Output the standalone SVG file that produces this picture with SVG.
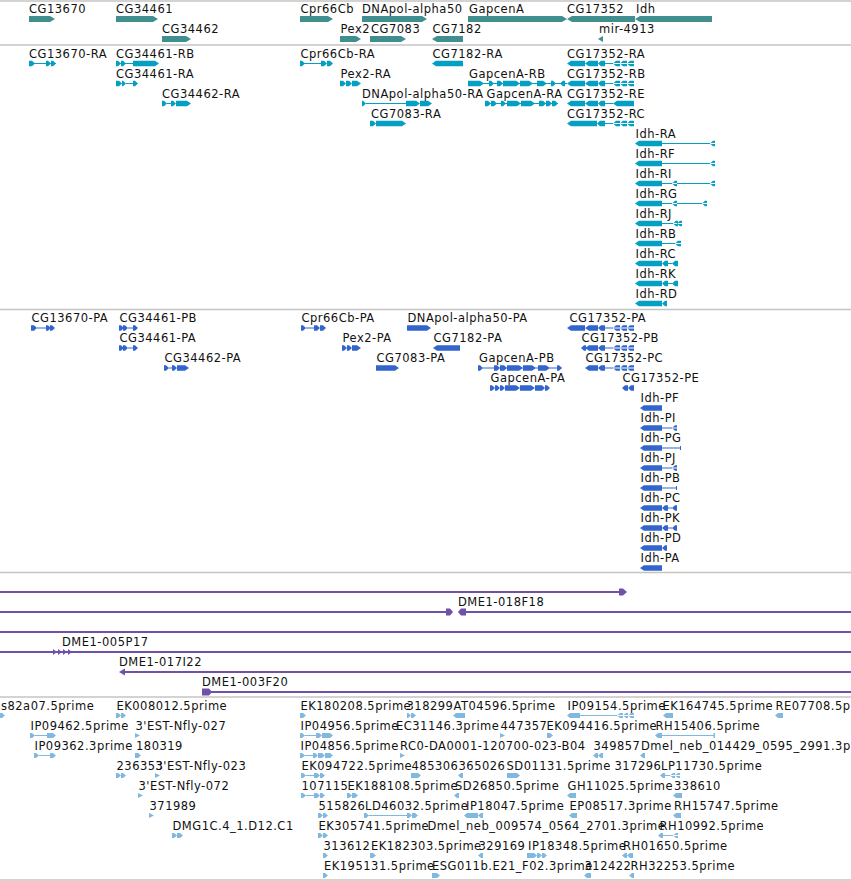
<svg xmlns="http://www.w3.org/2000/svg" xmlns:xlink="http://www.w3.org/1999/xlink" width="851" height="881" viewBox="0 0 851 881">
<style>
.t{font-family:"DejaVu Sans","Liberation Sans",sans-serif;font-size:11.5px;letter-spacing:0.5px;fill:#111}
.g{fill:#408e8e}
.r{fill:#04a0c4}
.p{fill:#3366cc}
.e{fill:#80b8e0}
.c{fill:#7050a8}
.cl{stroke:#7050a8;stroke-width:2;fill:none}
.sep{stroke:#c4c4c4;stroke-width:1.5}
</style>
<defs>
<path id="c17h" d="M585,-2.75H571L567,0L571,2.75H585Z M598,-2.75H589L585,0L589,2.75H598Z M605,-2.75H601L598,0L601,2.75H605Z"/>
<path id="c17t" d="M605,-.6H634V.6H605Z M620,-2.75H616L613,0L616,2.75H620Z M627,-2.75H623L620,0L623,2.75H627Z M634,-2.75H630L627,0L630,2.75H634Z"/>
<path id="idhT" d="M662,-2.75H639L635,0L639,2.75H662Z"/>
<path id="idhP" d="M662,-2.75H644L640,0L644,2.75H662Z"/>
</defs>
<rect x="0" y="0" width="851" height="881" fill="#fff"/>
<g id="separators">
<line class="sep" x1="0" y1="1" x2="851" y2="1"/>
<line class="sep" x1="0" y1="45" x2="851" y2="45"/>
<line class="sep" x1="0" y1="309.5" x2="851" y2="309.5"/>
<line class="sep" x1="0" y1="572.5" x2="851" y2="572.5"/>
<line class="sep" x1="0" y1="697" x2="851" y2="697"/>
<line class="sep" x1="0" y1="880" x2="851" y2="880"/>
</g>

<g id="genes">
<g id="gene-CG13670" transform="translate(0,19)"><text class="t" x="29" y="-6">CG13670</text><path class="g" d="M29,-3H50L55,0L50,3H29Z"/></g>
<g id="gene-CG34461" transform="translate(0,19)"><text class="t" x="116" y="-6">CG34461</text><path class="g" d="M116,-3H153L158,0L153,3H116Z"/></g>
<g id="gene-Cpr66Cb" transform="translate(0,19)"><text class="t" x="300.5" y="-6">Cpr66Cb</text><path class="g" d="M300,-3H328L333,0L328,3H300Z"/></g>
<g id="gene-DNApol-alpha50" transform="translate(0,19)"><text class="t" x="362" y="-6">DNApol-alpha50</text><path class="g" d="M362,-3H422L427,0L422,3H362Z"/></g>
<g id="gene-GapcenA" transform="translate(0,19)"><text class="t" x="469" y="-6">GapcenA</text><path class="g" d="M468,-3H562L567,0L562,3H468Z"/></g>
<g id="gene-CG17352" transform="translate(0,19)"><text class="t" x="567" y="-6">CG17352</text><path class="g" d="M635,-3H572L567,0L572,3H635Z"/></g>
<g id="gene-Idh" transform="translate(0,19)"><text class="t" x="636" y="-6">Idh</text><path class="g" d="M712,-3H640L635,0L640,3H712Z"/></g>
<g id="gene-CG34462" transform="translate(0,39)"><text class="t" x="162" y="-6">CG34462</text><path class="g" d="M162,-3H186L191,0L186,3H162Z"/></g>
<g id="gene-Pex2" transform="translate(0,39)"><text class="t" x="340.5" y="-6">Pex2</text><path class="g" d="M340,-3H356L361,0L356,3H340Z"/></g>
<g id="gene-CG7083" transform="translate(0,39)"><text class="t" x="371" y="-6">CG7083</text><path class="g" d="M370,-3H401L406,0L401,3H370Z"/></g>
<g id="gene-CG7182" transform="translate(0,39)"><text class="t" x="432.5" y="-6">CG7182</text><path class="g" d="M463,-3H437L432,0L437,3H463Z"/></g>
<g id="gene-mir-4913" transform="translate(0,39)"><text class="t" x="599" y="-6">mir-4913</text><path class="g" d="M603,-3L598,0L603,3Z"/></g>
</g>

<g id="transcripts">
<g id="tr-CG13670-RA" transform="translate(0,63.5)"><text class="t" x="29" y="-5.5">CG13670-RA</text><path class="r" d="M29,-.6H56V.6H29Z M29,-2.75H32L35,0L32,2.75H29Z M46,-2.75H48L51,0L48,2.75H46Z M51,-2.75H53L56,0L53,2.75H51Z"/></g>
<g id="tr-CG34461-RB" transform="translate(0,63.5)"><text class="t" x="116" y="-5.5">CG34461-RB</text><path class="r" d="M116,-.6H133V.6H116Z M116,-2.75H118L121,0L118,2.75H116Z M121,-2.75H123L126,0L123,2.75H121Z M133,-2.75H155L159,0L155,2.75H133Z"/></g>
<g id="tr-Cpr66Cb-RA" transform="translate(0,63.5)"><text class="t" x="300.5" y="-5.5">Cpr66Cb-RA</text><path class="r" d="M300,-.6H321V.6H300Z M300,-2.75H302L305,0L302,2.75H300Z M321,-2.75H324L327,0L324,2.75H321Z M327,-2.75H330L333,0L330,2.75H327Z"/></g>
<g id="tr-CG7182-RA" transform="translate(0,63.5)"><text class="t" x="432.5" y="-5.5">CG7182-RA</text><path class="r" d="M463,-2.75H436L432,0L436,2.75H463Z"/></g>
<g id="tr-CG17352-RA" transform="translate(0,63.5)"><text class="t" x="567" y="-5.5">CG17352-RA</text><use href="#c17h" class="r"/><use href="#c17t" class="r"/></g>

<g id="tr-CG34461-RA" transform="translate(0,83.5)"><text class="t" x="116" y="-5.5">CG34461-RA</text><path class="r" d="M116,-2.75H119L122,0L119,2.75H116Z M122,-2.75H123L126,0L123,2.75H122Z M126,-.6H133V.6H126Z M133,-2.75H135L138,0L135,2.75H133Z"/></g>
<g id="tr-Pex2-RA" transform="translate(0,83.5)"><text class="t" x="340.5" y="-5.5">Pex2-RA</text><path class="r" d="M340,-2.75H343L346,0L343,2.75H340Z M346,-2.75H349L352,0L349,2.75H346Z M352,-2.75H357L361,0L357,2.75H352Z"/></g>
<g id="tr-GapcenA-RB" transform="translate(0,83.5)"><text class="t" x="469" y="-5.5">GapcenA-RB</text><path class="r" d="M468,-.6H567V.6H468Z M468,-2.75H480L484,0L480,2.75H468Z M489,-2.75H491L494,0L491,2.75H489Z M497,-2.75H500L503,0L500,2.75H497Z M503,-2.75H516L520,0L516,2.75H503Z M520,-2.75H529L533,0L529,2.75H520Z M537,-2.75H543L547,0L543,2.75H537Z M551,-2.75H553L556,0L553,2.75H551Z"/></g>
<g id="tr-CG17352-RB" transform="translate(0,83.5)"><text class="t" x="567" y="-5.5">CG17352-RB</text><path class="r" d="M565,-2.75H563L560,0L563,2.75H565Z"/><use href="#c17h" class="r"/><use href="#c17t" class="r"/></g>

<g id="tr-CG34462-RA" transform="translate(0,103.5)"><text class="t" x="162" y="-5.5">CG34462-RA</text><path class="r" d="M162,-2.75H164L167,0L164,2.75H162Z M167,-.6H171V.6H167Z M171,-2.75H173L176,0L173,2.75H171Z M176,-2.75H187L191,0L187,2.75H176Z"/></g>
<g id="tr-DNApol-alpha50-RA" transform="translate(0,103.5)"><text class="t" x="362" y="-5.5">DNApol-alpha50-RA</text><path class="r" d="M362,-2.75H363L366,0L363,2.75H362Z M366,-.6H406V.6H366Z M406,-2.75H416L420,0L416,2.75H406Z M420,-2.75H428L432,0L428,2.75H420Z"/></g>
<g id="tr-GapcenA-RA" transform="translate(0,103.5)"><text class="t" x="486.5" y="-5.5">GapcenA-RA</text><path class="r" d="M485,-.6H558V.6H485Z M485,-2.75H488L491,0L488,2.75H485Z M491,-2.75H494L497,0L494,2.75H491Z M501,-2.75H503L506,0L503,2.75H501Z M507,-2.75H517L521,0L517,2.75H507Z M521,-2.75H531L535,0L531,2.75H521Z M539,-2.75H543L546,0L543,2.75H539Z M546,-2.75H549L552,0L549,2.75H546Z M552,-2.75H555L558,0L555,2.75H552Z"/></g>
<g id="tr-CG17352-RE" transform="translate(0,103.5)"><text class="t" x="567" y="-5.5">CG17352-RE</text><use href="#c17h" class="r"/><path class="r" d="M605,-.6H613V.6H605Z M634,-2.75H617L613,0L617,2.75H634Z"/></g>

<g id="tr-CG7083-RA" transform="translate(0,123.5)"><text class="t" x="371" y="-5.5">CG7083-RA</text><path class="r" d="M370,-2.75H373L376,0L373,2.75H370Z M376,-2.75H402L406,0L402,2.75H376Z"/></g>
<g id="tr-CG17352-RC" transform="translate(0,123.5)"><text class="t" x="567" y="-5.5">CG17352-RC</text><path class="r" d="M597,-2.75H571L567,0L571,2.75H597Z M605,-2.75H600L597,0L600,2.75H605Z"/><use href="#c17t" class="r"/></g>

<g id="tr-Idh-RA" transform="translate(0,143.5)"><text class="t" x="635.5" y="-5.5">Idh-RA</text><use href="#idhT" class="r"/><path class="r" d="M661,-.6H715V.6H661Z M715,-2.75H713L710,0L713,2.75H715Z"/></g>
<g id="tr-Idh-RF" transform="translate(0,163.5)"><text class="t" x="635.5" y="-5.5">Idh-RF</text><use href="#idhT" class="r"/><path class="r" d="M661,-.6H715V.6H661Z M715,-2.75H713L710,0L713,2.75H715Z"/></g>
<g id="tr-Idh-RI" transform="translate(0,183.5)"><text class="t" x="635.5" y="-5.5">Idh-RI</text><use href="#idhT" class="r"/><path class="r" d="M661,-.6H715V.6H661Z M677,-2.75H675L672,0L675,2.75H677Z M715,-2.75H713L710,0L713,2.75H715Z"/></g>
<g id="tr-Idh-RG" transform="translate(0,203.5)"><text class="t" x="635.5" y="-5.5">Idh-RG</text><use href="#idhT" class="r"/><path class="r" d="M661,-.6H707V.6H661Z M677,-2.75H675L672,0L675,2.75H677Z M707,-2.75H705L702,0L705,2.75H707Z"/></g>
<g id="tr-Idh-RJ" transform="translate(0,223.5)"><text class="t" x="635.5" y="-5.5">Idh-RJ</text><use href="#idhT" class="r"/><path class="r" d="M661,-.6H682V.6H661Z M678,-2.75H676L673,0L676,2.75H678Z M682,-2.75H680L677,0L680,2.75H682Z"/></g>
<g id="tr-Idh-RB" transform="translate(0,243.5)"><text class="t" x="635.5" y="-5.5">Idh-RB</text><use href="#idhT" class="r"/><path class="r" d="M661,-.6H681V.6H661Z M681,-2.75H678L675,0L678,2.75H681Z"/></g>
<g id="tr-Idh-RC" transform="translate(0,263.5)"><text class="t" x="635.5" y="-5.5">Idh-RC</text><use href="#idhT" class="r"/><path class="r" d="M668,-2.75H665L662,0L665,2.75H668Z M668,-.6H672V.6H668Z M678,-2.75H675L672,0L675,2.75H678Z"/></g>
<g id="tr-Idh-RK" transform="translate(0,283.5)"><text class="t" x="635.5" y="-5.5">Idh-RK</text><use href="#idhT" class="r"/><path class="r" d="M668,-2.75H665L662,0L665,2.75H668Z M668,-.6H672V.6H668Z M678,-2.75H675L672,0L675,2.75H678Z"/></g>
<g id="tr-Idh-RD" transform="translate(0,303.5)"><text class="t" x="635.5" y="-5.5">Idh-RD</text><use href="#idhT" class="r"/><path class="r" d="M667,-2.75H665L662,0L665,2.75H667Z"/></g>
</g>

<g id="proteins">
<g id="pr-CG13670-PA" transform="translate(0,328)"><text class="t" x="31.5" y="-6">CG13670-PA</text><path class="p" d="M31,-2.75H34L37,0L34,2.75H31Z M37,-.6H46V.6H37Z M46,-2.75H48L51,0L48,2.75H46Z M50,-2.75H52L55,0L52,2.75H50Z"/></g>
<g id="pr-CG34461-PB" transform="translate(0,328)"><text class="t" x="119.5" y="-6">CG34461-PB</text><path class="p" d="M119,-2.75H121L124,0L121,2.75H119Z M123,-2.75H125L128,0L125,2.75H123Z M128,-.6H133V.6H128Z M133,-2.75H135L138,0L135,2.75H133Z"/></g>
<g id="pr-Cpr66Cb-PA" transform="translate(0,328)"><text class="t" x="301.5" y="-6">Cpr66Cb-PA</text><path class="p" d="M301,-2.75H303L306,0L303,2.75H301Z M306,-.6H314V.6H306Z M314,-2.75H317L320,0L317,2.75H314Z M320,-2.75H323L326,0L323,2.75H320Z"/></g>
<g id="pr-DNApol-alpha50-PA" transform="translate(0,328)"><text class="t" x="407.5" y="-6">DNApol-alpha50-PA</text><path class="p" d="M407,-2.75H427L431,0L427,2.75H407Z"/></g>
<g id="pr-CG17352-PA" transform="translate(0,328)"><text class="t" x="569.5" y="-6">CG17352-PA</text><use href="#c17h" class="p"/><use href="#c17t" class="p"/></g>

<g id="pr-CG34461-PA" transform="translate(0,348)"><text class="t" x="119.5" y="-6">CG34461-PA</text><path class="p" d="M119,-2.75H121L124,0L121,2.75H119Z M123,-2.75H125L128,0L125,2.75H123Z M128,-.6H133V.6H128Z M133,-2.75H135L138,0L135,2.75H133Z"/></g>
<g id="pr-Pex2-PA" transform="translate(0,348)"><text class="t" x="342.5" y="-6">Pex2-PA</text><path class="p" d="M342,-2.75H344L347,0L344,2.75H342Z M347,-2.75H349L352,0L349,2.75H347Z M352,-2.75H357L361,0L357,2.75H352Z"/></g>
<g id="pr-CG7182-PA" transform="translate(0,348)"><text class="t" x="433.5" y="-6">CG7182-PA</text><path class="p" d="M460,-2.75H437L433,0L437,2.75H460Z"/></g>
<g id="pr-CG17352-PB" transform="translate(0,348)"><text class="t" x="581.5" y="-6">CG17352-PB</text><path class="p" d="M586,-2.75H584L581,0L584,2.75H586Z M598,-2.75H589L585,0L589,2.75H598Z M605,-2.75H601L598,0L601,2.75H605Z"/><use href="#c17t" class="p"/></g>

<g id="pr-CG34462-PA" transform="translate(0,368)"><text class="t" x="164.5" y="-6">CG34462-PA</text><path class="p" d="M164,-2.75H166L169,0L166,2.75H164Z M169,-.6H172V.6H169Z M172,-2.75H174L177,0L174,2.75H172Z M177,-2.75H185L189,0L185,2.75H177Z"/></g>
<g id="pr-CG7083-PA" transform="translate(0,368)"><text class="t" x="376.5" y="-6">CG7083-PA</text><path class="p" d="M376,-2.75H395L399,0L395,2.75H376Z"/></g>
<g id="pr-GapcenA-PB" transform="translate(0,368)"><text class="t" x="479" y="-6">GapcenA-PB</text><path class="p" d="M478,-.6H562V.6H478Z M478,-2.75H480L483,0L480,2.75H478Z M494,-2.75H497L500,0L497,2.75H494Z M500,-2.75H504L507,0L504,2.75H500Z M507,-2.75H519L523,0L519,2.75H507Z M523,-2.75H532L536,0L532,2.75H523Z M538,-2.75H546L550,0L546,2.75H538Z M557,-2.75H559L562,0L559,2.75H557Z"/></g>
<g id="pr-CG17352-PC" transform="translate(0,368)"><text class="t" x="585.5" y="-6">CG17352-PC</text><path class="p" d="M598,-2.75H589L585,0L589,2.75H598Z M605,-2.75H601L598,0L601,2.75H605Z"/><use href="#c17t" class="p"/></g>

<g id="pr-GapcenA-PA" transform="translate(0,388)"><text class="t" x="490.5" y="-6">GapcenA-PA</text><path class="p" d="M490,-2.75H492L495,0L492,2.75H490Z M495,-2.75H497L500,0L497,2.75H495Z M500,-2.75H502L505,0L502,2.75H500Z M505,-2.75H516L520,0L516,2.75H505Z M520,-2.75H531L535,0L531,2.75H520Z M535,-2.75H542L545,0L542,2.75H535Z M545,-2.75H547L550,0L547,2.75H545Z"/></g>
<g id="pr-CG17352-PE" transform="translate(0,388)"><text class="t" x="622.5" y="-6">CG17352-PE</text><path class="p" d="M628,-2.75H625L622,0L625,2.75H628Z M634,-2.75H631L628,0L631,2.75H634Z"/></g>

<g id="pr-Idh-PF" transform="translate(0,408)"><text class="t" x="640.5" y="-6">Idh-PF</text><use href="#idhP" class="p"/></g>
<g id="pr-Idh-PI" transform="translate(0,428)"><text class="t" x="640.5" y="-6">Idh-PI</text><use href="#idhP" class="p"/><path class="p" d="M662,-.6H677V.6H662Z M677,-2.75H675L672,0L675,2.75H677Z"/></g>
<g id="pr-Idh-PG" transform="translate(0,448)"><text class="t" x="640.5" y="-6">Idh-PG</text><use href="#idhP" class="p"/><path class="p" d="M662,-.6H681V.6H662Z M680,-2H681V2H680Z"/></g>
<g id="pr-Idh-PJ" transform="translate(0,468)"><text class="t" x="640.5" y="-6">Idh-PJ</text><use href="#idhP" class="p"/><path class="p" d="M662,-.6H677V.6H662Z M677,-2.75H675L672,0L675,2.75H677Z"/></g>
<g id="pr-Idh-PB" transform="translate(0,488)"><text class="t" x="640.5" y="-6">Idh-PB</text><use href="#idhP" class="p"/><path class="p" d="M662,-.6H677V.6H662Z M676,-2H677V2H676Z"/></g>
<g id="pr-Idh-PC" transform="translate(0,508)"><text class="t" x="640.5" y="-6">Idh-PC</text><use href="#idhP" class="p"/><path class="p" d="M668,-2.75H665L662,0L665,2.75H668Z M668,-.6H672V.6H668Z M677,-2.75H675L672,0L675,2.75H677Z"/></g>
<g id="pr-Idh-PK" transform="translate(0,528)"><text class="t" x="640.5" y="-6">Idh-PK</text><use href="#idhP" class="p"/><path class="p" d="M668,-2.75H665L662,0L665,2.75H668Z M668,-.6H672V.6H668Z M677,-2.75H675L672,0L675,2.75H677Z"/></g>
<g id="pr-Idh-PD" transform="translate(0,548)"><text class="t" x="640.5" y="-6">Idh-PD</text><use href="#idhP" class="p"/><path class="p" d="M667,-2.75H665L662,0L665,2.75H667Z"/></g>
<g id="pr-Idh-PA" transform="translate(0,568)"><text class="t" x="640.5" y="-6">Idh-PA</text><use href="#idhP" class="p"/></g>
</g>

<g id="clones">
<g id="clone-1"><path class="cl" d="M0,592H620"/><path class="c" d="M619,588.5H623L627,592L623,595.5H619Z"/></g>
<g id="clone-2"><path class="cl" d="M0,612H447"/><path class="c" d="M446,608.5H450L453,612L450,615.5H446Z"/></g>
<g id="clone-DME1-018F18"><text class="t" x="458" y="606">DME1-018F18</text><path class="cl" d="M465,612H851"/><path class="c" d="M466,608.5H461L458,612L461,615.5H466Z"/></g>
<g id="clone-3"><path class="cl" d="M0,632H851"/></g>
<g id="clone-DME1-005P17"><text class="t" x="62" y="646">DME1-005P17</text><path class="cl" d="M0,652H851"/><path class="c" d="M53,649L57,652L53,655Z M58,649L62,652L58,655Z M63,649L67,652L63,655Z M68,649L72,652L68,655Z"/></g>
<g id="clone-DME1-017I22"><text class="t" x="119" y="666">DME1-017I22</text><path class="cl" d="M124,672H851"/><path class="c" d="M119,672L125,668.5V675.5Z"/></g>
<g id="clone-DME1-003F20"><text class="t" x="202" y="686">DME1-003F20</text><path class="cl" d="M210,692H851"/><path class="c" d="M202,688.5H209L212,692L209,695.5H202Z"/></g>
</g>

<g id="ests">
<g id="est-s82a07" transform="translate(0,715.5)"><text class="t" x="1" y="-6">s82a07.5prime</text><path class="e" d="M0,-2.5H2L5,0L2,2.5H0Z"/></g>
<g id="est-EK008012" transform="translate(0,715.5)"><text class="t" x="116.5" y="-6">EK008012.5prime</text><path class="e" d="M116,-2.5H118L121,0L118,2.5H116Z M121,-2.5H123L126,0L123,2.5H121Z"/></g>
<g id="est-EK180208" transform="translate(0,715.5)"><text class="t" x="300.5" y="-6">EK180208.5prime</text><path class="e" d="M300,-2.5H303L306,0L303,2.5H300Z"/></g>
<g id="est-318299" transform="translate(0,715.5)"><text class="t" x="406.5" y="-6">318299</text><path class="e" d="M407,-2.5H408L411,0L408,2.5H407Z M411,-2.5H413L416,0L413,2.5H411Z"/></g>
<g id="est-AT04596" transform="translate(0,715.5)"><text class="t" x="453.5" y="-6">AT04596.5prime</text><path class="e" d="M465,-2.5H456L453,0L456,2.5H465Z"/></g>
<g id="est-IP09154" transform="translate(0,715.5)"><text class="t" x="567.5" y="-6">IP09154.5prime</text><path class="e" d="M580,-2.5H570L567,0L570,2.5H580Z M580,-.6H634V.6H580Z M623,-2.5H620L617,0L620,2.5H623Z M628,-2.5H626L623,0L626,2.5H628Z M634,-2.5H631L628,0L631,2.5H634Z"/></g>
<g id="est-EK164745" transform="translate(0,715.5)"><text class="t" x="662.5" y="-6">EK164745.5prime</text><path class="e" d="M673,-2.5H666L663,0L666,2.5H673Z"/></g>
<g id="est-RE07708" transform="translate(0,715.5)"><text class="t" x="775.5" y="-6">RE07708.5prime</text><path class="e" d="M783,-2.5H778L775,0L778,2.5H783Z"/></g>

<g id="est-IP09462" transform="translate(0,735.5)"><text class="t" x="30.5" y="-6">IP09462.5prime</text><path class="e" d="M30,-2.5H32L35,0L32,2.5H30Z M35,-.6H47V.6H35Z M47,-2.5H53L56,0L53,2.5H47Z"/></g>
<g id="est-3EST-Nfly-027" transform="translate(0,735.5)"><text class="t" x="135.5" y="-6">3'EST-Nfly-027</text><path class="e" d="M135,-2.5L140,0L135,2.5Z"/></g>
<g id="est-IP04956" transform="translate(0,735.5)"><text class="t" x="300.5" y="-6">IP04956.5prime</text><path class="e" d="M300,-2.5H302L305,0L302,2.5H300Z M305,-.6H316V.6H305Z M316,-2.5H319L322,0L319,2.5H316Z M322,-2.5H330L333,0L330,2.5H322Z"/></g>
<g id="est-EC31146" transform="translate(0,735.5)"><text class="t" x="396" y="-6">EC31146.3prime</text></g>
<g id="est-447357" transform="translate(0,735.5)"><text class="t" x="500.5" y="-6">447357</text><path class="e" d="M500,-2.5L505,0L500,2.5Z"/></g>
<g id="est-EK094416" transform="translate(0,735.5)"><text class="t" x="546.5" y="-6">EK094416.5prime</text><path class="e" d="M547,-2.5H550L553,0L550,2.5H547Z"/></g>
<g id="est-RH15406" transform="translate(0,735.5)"><text class="t" x="655.5" y="-6">RH15406.5prime</text><path class="e" d="M662,-2.5H658L655,0L658,2.5H662Z M662,-.6H715V.6H662Z M713.5,-2.5H715V2.5H713.5Z"/></g>

<g id="est-IP09362" transform="translate(0,755.5)"><text class="t" x="34.5" y="-6">IP09362.3prime</text><path class="e" d="M34,-2.5H36L39,0L36,2.5H34Z M39,-.6H50V.6H39Z M50,-2.5H53L56,0L53,2.5H50Z"/></g>
<g id="est-180319" transform="translate(0,755.5)"><text class="t" x="136" y="-6">180319</text><path class="e" d="M135,-2.5H138L141,0L138,2.5H135Z"/></g>
<g id="est-IP04856" transform="translate(0,755.5)"><text class="t" x="300.5" y="-6">IP04856.5prime</text><path class="e" d="M300,-2.5H302L305,0L302,2.5H300Z M305,-.6H313V.6H305Z M313,-2.5H315L318,0L315,2.5H313Z M318,-2.5H322L325,0L322,2.5H318Z M325,-2.5H330L333,0L330,2.5H325Z"/></g>
<g id="est-RC0-DA0001" transform="translate(0,755.5)"><text class="t" x="400" y="-6">RC0-DA0001-120700-023-B04</text><path class="e" d="M400,-2.5L405,0L400,2.5Z"/></g>
<g id="est-349857" transform="translate(0,755.5)"><text class="t" x="593.5" y="-6">349857</text><path class="e" d="M598,-2.5H596L593,0L596,2.5H598Z M603,-2.5H601L598,0L601,2.5H603Z"/></g>
<g id="est-Dmel_neb_014429" transform="translate(0,755.5)"><text class="t" x="641" y="-6">Dmel_neb_014429_0595_2991.3prime</text><path class="e" d="M645,-2.5H643L640,0L643,2.5H645Z"/></g>

<g id="est-236353" transform="translate(0,775.5)"><text class="t" x="116.5" y="-6">236353</text><path class="e" d="M116,-2.5H118L121,0L118,2.5H116Z M121,-2.5H123L126,0L123,2.5H121Z"/></g>
<g id="est-3EST-Nfly-023" transform="translate(0,775.5)"><text class="t" x="155.5" y="-6">3'EST-Nfly-023</text><path class="e" d="M155,-2.5L160,0L155,2.5Z"/></g>
<g id="est-EK094722" transform="translate(0,775.5)"><text class="t" x="301.5" y="-6">EK094722.5prime</text><path class="e" d="M301,-2.5H303L306,0L303,2.5H301Z M306,-.6H314V.6H306Z M314,-2.5H317L320,0L317,2.5H314Z M320,-2.5H322L325,0L322,2.5H320Z"/></g>
<g id="est-485306" transform="translate(0,775.5)"><text class="t" x="411.5" y="-6">485306</text><path class="e" d="M411,-2.5H418L421,0L418,2.5H411Z"/></g>
<g id="est-365026" transform="translate(0,775.5)"><text class="t" x="458.5" y="-6">365026</text><path class="e" d="M463,-2.5H461L458,0L461,2.5H463Z"/></g>
<g id="est-SD01131" transform="translate(0,775.5)"><text class="t" x="506.5" y="-6">SD01131.5prime</text><path class="e" d="M507,-2.5H517L520,0L517,2.5H507Z"/></g>
<g id="est-317296" transform="translate(0,775.5)"><text class="t" x="614.5" y="-6">317296</text></g>
<g id="est-LP11730" transform="translate(0,775.5)"><text class="t" x="661" y="-6">LP11730.5prime</text><path class="e" d="M665,-2.5H663L660,0L663,2.5H665Z M665,-.6H680V.6H665Z M675,-2.5H673L670,0L673,2.5H675Z M680,-2.5H678L675,0L678,2.5H680Z"/></g>

<g id="est-3EST-Nfly-072" transform="translate(0,795.5)"><text class="t" x="138.5" y="-6">3'EST-Nfly-072</text><path class="e" d="M138,-2.5L143,0L138,2.5Z"/></g>
<g id="est-107115" transform="translate(0,795.5)"><text class="t" x="301.5" y="-6">107115</text><path class="e" d="M301,-2.5H303L306,0L303,2.5H301Z M306,-.6H314V.6H306Z M314,-2.5H317L320,0L317,2.5H314Z M320,-2.5H322L325,0L322,2.5H320Z"/></g>
<g id="est-EK188108" transform="translate(0,795.5)"><text class="t" x="347.5" y="-6">EK188108.5prime</text><path class="e" d="M347,-2.5H349L352,0L349,2.5H347Z M352,-2.5H355L358,0L355,2.5H352Z"/></g>
<g id="est-SD26850" transform="translate(0,795.5)"><text class="t" x="455" y="-6">SD26850.5prime</text><path class="e" d="M459,-2.5H457L454,0L457,2.5H459Z"/></g>
<g id="est-GH11025" transform="translate(0,795.5)"><text class="t" x="567.5" y="-6">GH11025.5prime</text><path class="e" d="M576,-2.5H570L567,0L570,2.5H576Z"/></g>
<g id="est-338610" transform="translate(0,795.5)"><text class="t" x="674" y="-6">338610</text><path class="e" d="M682,-2.5H676L673,0L676,2.5H682Z"/></g>

<g id="est-371989" transform="translate(0,815.5)"><text class="t" x="149.5" y="-6">371989</text><path class="e" d="M149,-2.5L154,0L149,2.5Z"/></g>
<g id="est-515826" transform="translate(0,815.5)"><text class="t" x="318.5" y="-6">515826</text><path class="e" d="M318,-2.5H320L323,0L320,2.5H318Z M323,-2.5H325L328,0L325,2.5H323Z"/></g>
<g id="est-LD46032" transform="translate(0,815.5)"><text class="t" x="365" y="-6">LD46032.5prime</text><path class="e" d="M364,-2.5H366L369,0L366,2.5H364Z M369,-.6H407V.6H369Z M407,-2.5H409L412,0L409,2.5H407Z M412,-2.5H415L418,0L415,2.5H412Z"/></g>
<g id="est-IP18047" transform="translate(0,815.5)"><text class="t" x="466" y="-6">IP18047.5prime</text><path class="e" d="M478,-2.5H467L464,0L467,2.5H478Z M483,-2.5H481L478,0L481,2.5H483Z"/></g>
<g id="est-EP08517" transform="translate(0,815.5)"><text class="t" x="569.5" y="-6">EP08517.3prime</text><path class="e" d="M577,-2.5H572L569,0L572,2.5H577Z"/></g>
<g id="est-RH15747" transform="translate(0,815.5)"><text class="t" x="674" y="-6">RH15747.5prime</text><path class="e" d="M681,-2.5H676L673,0L676,2.5H681Z"/></g>

<g id="est-DMG1C" transform="translate(0,835.5)"><text class="t" x="172.5" y="-6">DMG1C.4_1.D12.C1</text><path class="e" d="M172,-2.5H174L177,0L174,2.5H172Z M177,-2.5H180L183,0L180,2.5H177Z"/></g>
<g id="est-EK305741" transform="translate(0,835.5)"><text class="t" x="318.5" y="-6">EK305741.5prime</text><path class="e" d="M318,-2.5H320L323,0L320,2.5H318Z M323,-2.5H325L328,0L325,2.5H323Z"/></g>
<g id="est-Dmel_neb_009574" transform="translate(0,835.5)"><text class="t" x="427.5" y="-6">Dmel_neb_009574_0564_2701.3prime</text></g>
<g id="est-RH10992" transform="translate(0,835.5)"><text class="t" x="659.5" y="-6">RH10992.5prime</text><path class="e" d="M663,-2.5H661L658,0L661,2.5H663Z M663,-.6H678V.6H663Z M678,-2.5H676L673,0L676,2.5H678Z"/></g>

<g id="est-313612" transform="translate(0,855.5)"><text class="t" x="323.5" y="-6">313612</text><path class="e" d="M323,-2.5H325L328,0L325,2.5H323Z"/></g>
<g id="est-EK182303" transform="translate(0,855.5)"><text class="t" x="371" y="-6">EK182303.5prime</text><path class="e" d="M370,-2.5H373L376,0L373,2.5H370Z"/></g>
<g id="est-329169" transform="translate(0,855.5)"><text class="t" x="478.5" y="-6">329169</text><path class="e" d="M483,-2.5H481L478,0L481,2.5H483Z"/></g>
<g id="est-IP18348" transform="translate(0,855.5)"><text class="t" x="528" y="-6">IP18348.5prime</text><path class="e" d="M527,-2.5H534L537,0L534,2.5H527Z M537,-2.5H539L542,0L539,2.5H537Z M542,-2.5H544L547,0L544,2.5H542Z"/></g>
<g id="est-RH01650" transform="translate(0,855.5)"><text class="t" x="623" y="-6">RH01650.5prime</text><path class="e" d="M627,-2.5H625L622,0L625,2.5H627Z M633,-2.5H630L627,0L630,2.5H633Z"/></g>

<g id="est-EK195131" transform="translate(0,875.5)"><text class="t" x="324" y="-6">EK195131.5prime</text><path class="e" d="M323,-2.5H325L328,0L325,2.5H323Z"/></g>
<g id="est-ESG011b" transform="translate(0,875.5)"><text class="t" x="432" y="-6">ESG011b.E21_F02.3prime</text><path class="e" d="M432,-2.5H437L440,0L437,2.5H432Z"/></g>
<g id="est-312422" transform="translate(0,875.5)"><text class="t" x="584.5" y="-6">312422</text><path class="e" d="M591,-2.5H587L584,0L587,2.5H591Z"/></g>
<g id="est-RH32253" transform="translate(0,875.5)"><text class="t" x="630.5" y="-6">RH32253.5prime</text><path class="e" d="M634,-2.5H632L629,0L632,2.5H634Z"/></g>
</g>
</svg>
